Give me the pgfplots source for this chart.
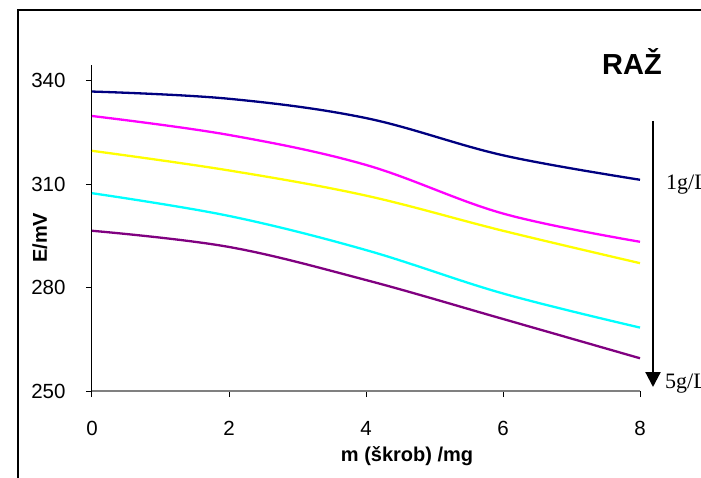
\documentclass[border=0pt]{standalone}
\usepackage{pgfplots}
\pgfplotsset{compat=1.18}
\usepackage{fontspec}
\setmainfont{Liberation Sans}
\newfontfamily\serif{Liberation Serif}
\usetikzlibrary{arrows.meta}

\definecolor{cnavy}{RGB}{0,0,128}
\definecolor{cmag}{RGB}{255,0,255}
\definecolor{cyel}{RGB}{255,255,0}
\definecolor{ccyan}{RGB}{0,255,255}
\definecolor{cpurp}{RGB}{128,0,128}

\begin{document}
\begin{tikzpicture}
\useasboundingbox (-92pt,-86pt) rectangle (609pt,391pt);
\begin{axis}[
  at={(0pt,0pt)}, anchor=south west,
  scale only axis,
  width=548pt, height=326pt,
  xmin=0, xmax=8, ymin=250, ymax=344.6,
  xtick={0,2,4,6,8},
  ytick={250,280,310,340},
  axis x line*=bottom,
  axis y line*=left,
  x axis line style={gray, line width=1.2pt},
  y axis line style={black, line width=1pt},
  tick align=outside,
  major tick length=6pt,
  tick style={black, line width=1pt},
  /pgf/number format/assume math mode=true,
  tick label style={font=\fontsize{20.5}{24}\selectfont},
  yticklabel style={anchor=east, xshift=-17pt},
  xticklabel style={yshift=-21pt},
  xlabel={m (škrob) /mg},
  ylabel={E/mV},
  label style={font=\bfseries\fontsize{20}{24}\selectfont},
  xlabel style={at={(axis description cs:0.575,0)}, anchor=center, yshift=-65pt},
  ylabel style={at={(axis description cs:-0.095,0.47)}, anchor=center},
  clip=false,
  every axis plot/.append style={line width=2.3pt, smooth, tension=0.6, no marks},
]
% 1 g/L
\addplot[cnavy] coordinates {(0,336.9) (2,334.8) (4,329.2) (6,318.4) (8,311.3)};
\addplot[cmag] coordinates {(0,329.8) (2,324.3) (4,315.6) (6,301.5) (8,293.3)};
\addplot[cyel] coordinates {(0,319.7) (2,314.0) (4,306.7) (6,296.5) (8,287.1)};
\addplot[ccyan] coordinates {(0,307.4) (2,300.8) (4,290.9) (6,278.3) (8,268.4)};
% 5 g/L
\addplot[cpurp] coordinates {(0,296.5) (2,291.8) (4,282.2) (6,270.9) (8,259.5)};
\end{axis}
% outer chart frame
\draw[line width=1.7pt] (-74pt,-120pt) -- (-74pt,381pt) -- (640pt,381pt);
% concentration arrow
\draw[line width=2.2pt, -{Triangle[length=15pt,width=15pt]}] (561pt,270pt) -- (561pt,4pt);
\node[anchor=west, font=\serif\fontsize{22}{26}\selectfont, inner sep=0pt] at (574pt,206pt) {1g/L};
\node[anchor=west, font=\serif\fontsize{22}{26}\selectfont, inner sep=0pt] at (573pt,7pt) {5g/L};
\node[font=\bfseries\fontsize{29}{34}\selectfont] at (540pt,329pt) {RAŽ};
\end{tikzpicture}
\end{document}
